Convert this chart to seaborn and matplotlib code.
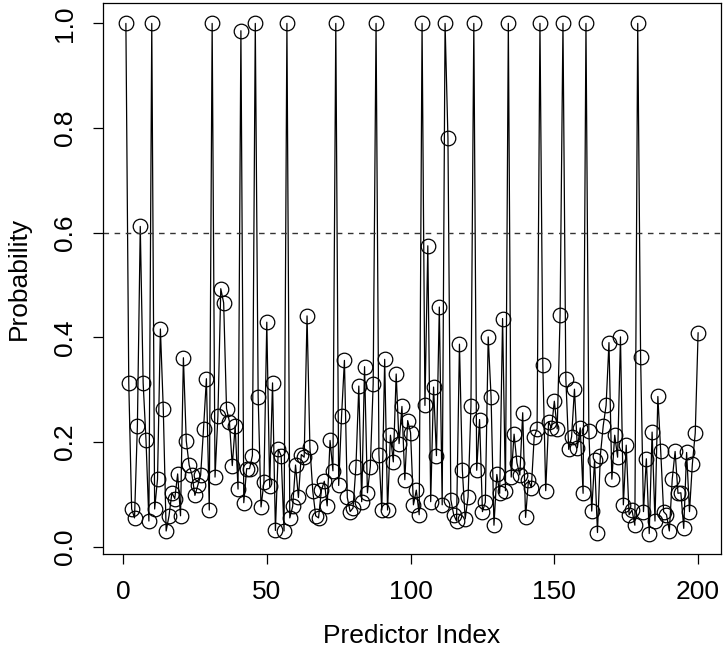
import matplotlib
matplotlib.use("Agg")
import matplotlib.pyplot as plt
import seaborn as sns
import numpy as np
import pandas as pd

# Posterior inclusion probability for each of the 200 predictors
probability = [
    1.000, 0.313, 0.072, 0.055, 0.231, 0.612, 0.313, 0.203, 0.049, 1.000,
    0.072, 0.129, 0.416, 0.264, 0.030, 0.059, 0.103, 0.092, 0.139, 0.059,
    0.361, 0.202, 0.156, 0.137, 0.098, 0.117, 0.137, 0.225, 0.321, 0.070,
    1.000, 0.133, 0.250, 0.493, 0.466, 0.264, 0.239, 0.155, 0.231, 0.110,
    0.986, 0.084, 0.149, 0.149, 0.174, 1.000, 0.286, 0.076, 0.123, 0.429,
    0.115, 0.313, 0.031, 0.186, 0.174, 0.030, 1.000, 0.055, 0.077, 0.156,
    0.094, 0.176, 0.171, 0.441, 0.190, 0.106, 0.059, 0.055, 0.108, 0.125,
    0.078, 0.203, 0.145, 1.000, 0.117, 0.249, 0.356, 0.094, 0.067, 0.074,
    0.153, 0.307, 0.086, 0.344, 0.103, 0.153, 0.311, 1.000, 0.176, 0.070,
    0.358, 0.070, 0.213, 0.162, 0.330, 0.197, 0.268, 0.128, 0.241, 0.218,
    0.080, 0.108, 0.061, 1.000, 0.270, 0.575, 0.086, 0.305, 0.174, 0.458,
    0.080, 1.000, 0.781, 0.090, 0.061, 0.049, 0.387, 0.147, 0.053, 0.095,
    0.268, 1.000, 0.146, 0.243, 0.067, 0.085, 0.401, 0.286, 0.041, 0.138,
    0.102, 0.436, 0.107, 1.000, 0.133, 0.215, 0.160, 0.137, 0.256, 0.056,
    0.127, 0.113, 0.210, 0.225, 1.000, 0.347, 0.107, 0.239, 0.227, 0.278,
    0.225, 0.442, 1.000, 0.321, 0.186, 0.210, 0.301, 0.189, 0.227, 0.102,
    1.000, 0.221, 0.068, 0.166, 0.027, 0.174, 0.231, 0.270, 0.390, 0.129,
    0.213, 0.171, 0.401, 0.080, 0.194, 0.061, 0.070, 0.041, 1.000, 0.362,
    0.067, 0.168, 0.025, 0.219, 0.049, 0.287, 0.182, 0.067, 0.061, 0.030,
    0.129, 0.182, 0.102, 0.103, 0.035, 0.180, 0.067, 0.158, 0.217, 0.409,
]
predictor_index = list(range(1, len(probability) + 1))
threshold = 0.6

x_ticks = [0, 50, 100, 150, 200]
y_ticks = [0.0, 0.2, 0.4, 0.6, 0.8, 1.0]
y_tick_labels = ["0.0", "0.2", "0.4", "0.6", "0.8", "1.0"]

df = pd.DataFrame({"Predictor Index": predictor_index, "Probability": probability})

sns.set_style("ticks")
plt.rcParams["font.family"] = ["Liberation Sans", "DejaVu Sans"]
plt.rcParams["font.size"] = 19
plt.rcParams["text.color"] = "black"
plt.rcParams["axes.labelcolor"] = "black"

fig = plt.figure(figsize=(7.24, 6.47), dpi=100)
ax = fig.add_axes([103 / 724, 1 - 554 / 647, (721 - 103) / 724, (554 - 3) / 647])

sns.lineplot(
    data=df, x="Predictor Index", y="Probability", ax=ax,
    color="black", linewidth=0.9, marker="o", markersize=10.5,
    markerfacecolor="none", markeredgecolor="black", markeredgewidth=0.9,
)
ax.axhline(threshold, color="#333333", linewidth=1.0, linestyle=(0, (4, 4)))

# R-style 4% padding around the data range
xr = max(predictor_index) - min(predictor_index)
ax.set_xlim(min(predictor_index) - 0.04 * xr, max(predictor_index) + 0.04 * xr)
yr = max(probability) - min(probability)
ax.set_ylim(min(probability) - 0.04 * yr, max(probability) + 0.04 * yr)

ax.set_xticks(x_ticks)
ax.set_xticklabels([str(t) for t in x_ticks])
ax.set_yticks(y_ticks)
ax.set_yticklabels(y_tick_labels, rotation=90, va="center")

for side in ["left", "right", "top", "bottom"]:
    ax.spines[side].set_visible(True)
    ax.spines[side].set_color("black")
    ax.spines[side].set_linewidth(0.9)

ax.tick_params(axis="both", direction="out", length=7, width=0.9,
               color="black", labelsize=19, labelcolor="black")
ax.tick_params(axis="x", pad=12)
ax.tick_params(axis="y", pad=12)

ax.set_xlabel("Predictor Index", fontsize=19, labelpad=14, color="black")
ax.set_ylabel("Probability", fontsize=19, labelpad=16, color="black")

fig.savefig("out.png", dpi=100, facecolor="white")
